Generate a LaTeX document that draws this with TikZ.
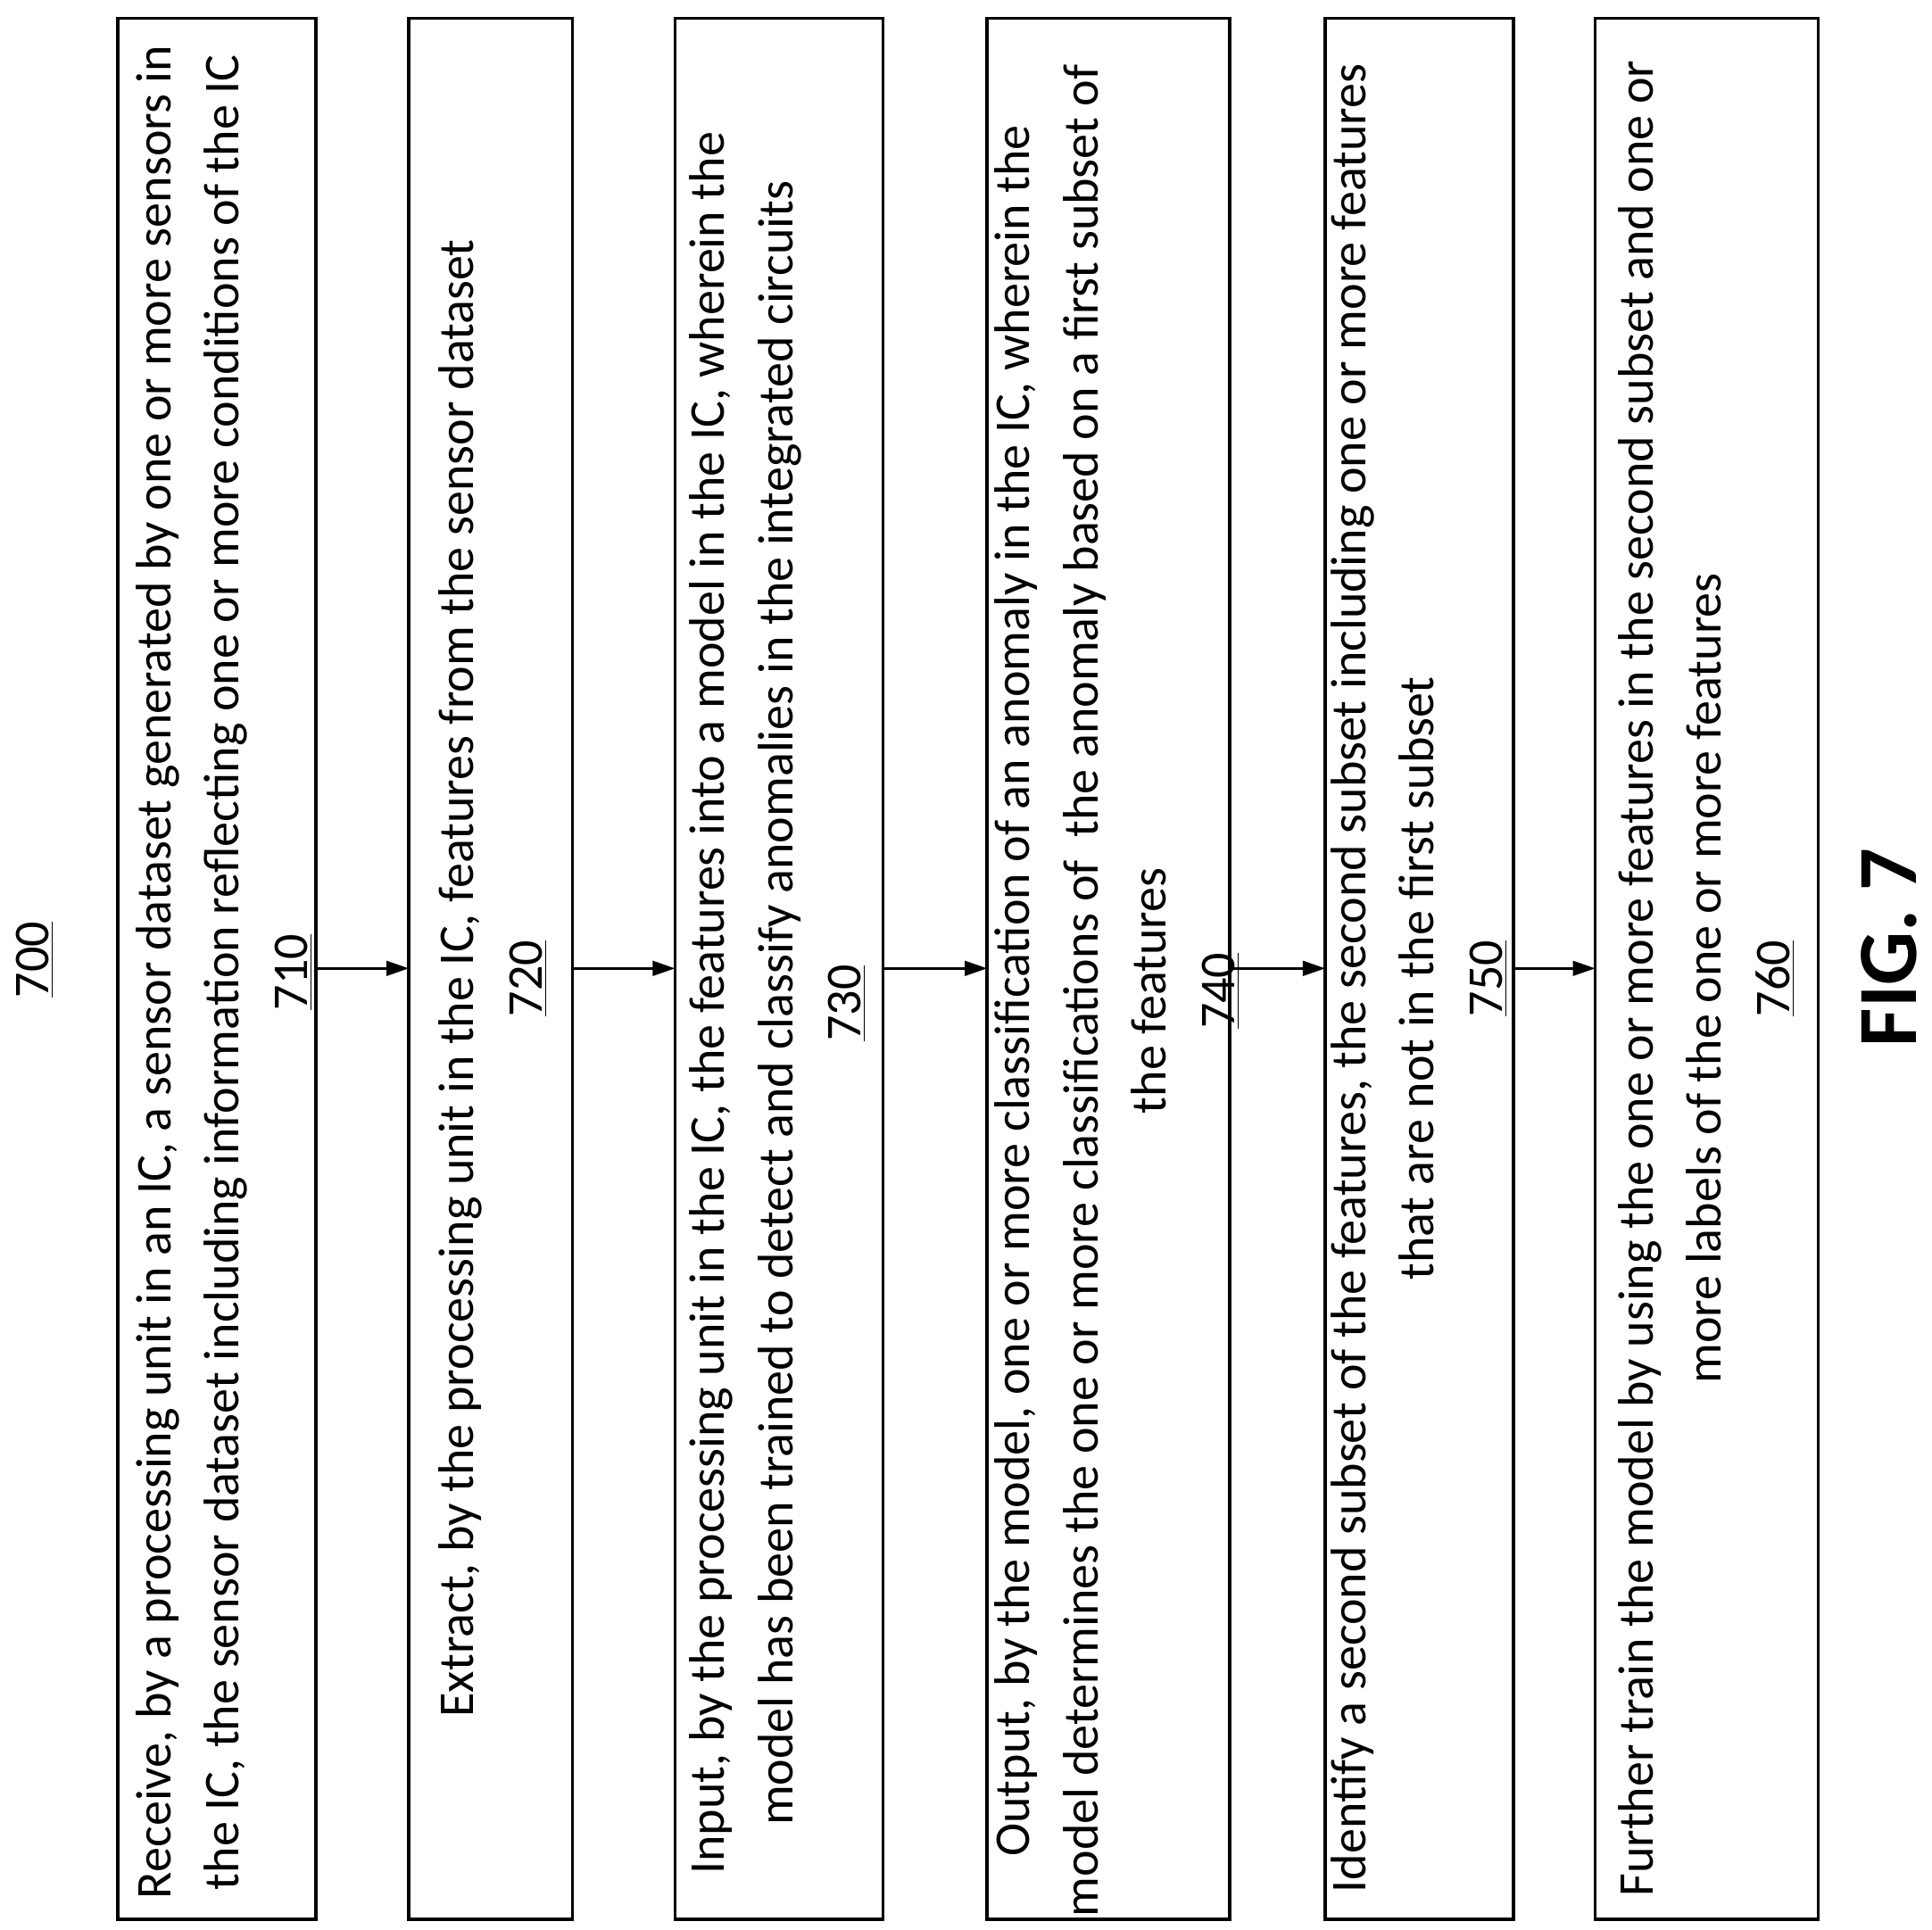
\documentclass[tikz,border=0pt]{standalone}
\usepackage{fontspec}
\setmainfont{Carlito}
\usetikzlibrary{arrows.meta}
\begin{document}
\begin{tikzpicture}[x=0.5pt,y=-0.5pt,
  box/.style={draw,line width=1.2pt},
  txt/.style={rotate=90,align=center,font=\fontsize{20.2}{27.6}\selectfont,inner sep=0},
  arr/.style={-{Triangle[length=9pt,width=6pt]},line width=0.9pt}]
\useasboundingbox (0,0) rectangle (1560,1558);
\draw[box] (95,15) rectangle (255,1550);
\draw[box] (330,15) rectangle (462,1550);
\draw[box] (545,15) rectangle (713,1550);
\draw[box] (797,15) rectangle (993,1550);
\draw[box] (1070,15) rectangle (1222,1550);
\draw[box] (1288,15) rectangle (1468,1550);
\node[txt] (t710) at (181,785) {Receive, by a processing unit in an IC, a sensor dataset generated by one or more sensors in\\ the IC, the sensor dataset including information reflecting one or more conditions of the IC\\ \underline{710}};
\node[txt] (t720) at (398,790) {Extract, by the processing unit in the IC, features from the sensor dataset\\ \underline{720}};
\node[txt] (t730) at (628,810) {Input, by the processing unit in the IC, the features into a model in the IC, wherein the\\ model has been trained to detect and classify anomalies in the integrated circuits\\ \underline{730}};
\node[txt] (t740) at (902,800) {Output, by the model, one or more classification of an anomaly in the IC, wherein the\\ model determines the one or more classifications of \ the anomaly based on a first subset of\\ the features\\ \underline{740}};
\node[txt] (t750) at (1146,790) {Identify a second subset of the features, the second subset including one or more features\\ that are not in the first subset\\ \underline{750}};
\node[txt] (t760) at (1378,790) {Further train the model by using the one or more features in the second subset and one or\\ more labels of the one or more features\\ \underline{760}};
\node[rotate=90,font=\fontsize{20.2}{22}\selectfont] (t700) at (28,775) {\underline{700}};
\node[rotate=90,font=\fontsize{34}{36}\selectfont\bfseries] (fig) at (1525,765) {FIG. 7};
\coordinate (a1) at (255,782); \coordinate (b1) at (330,782);
\coordinate (a2) at (462,782); \coordinate (b2) at (545,782);
\coordinate (a3) at (713,782); \coordinate (b3) at (797,782);
\coordinate (a4) at (993,782); \coordinate (b4) at (1070,782);
\coordinate (a5) at (1222,782); \coordinate (b5) at (1288,782);
\foreach \i in {1,...,5}{\draw[arr] (a\i) -- (b\i);}
\end{tikzpicture}
\end{document}
